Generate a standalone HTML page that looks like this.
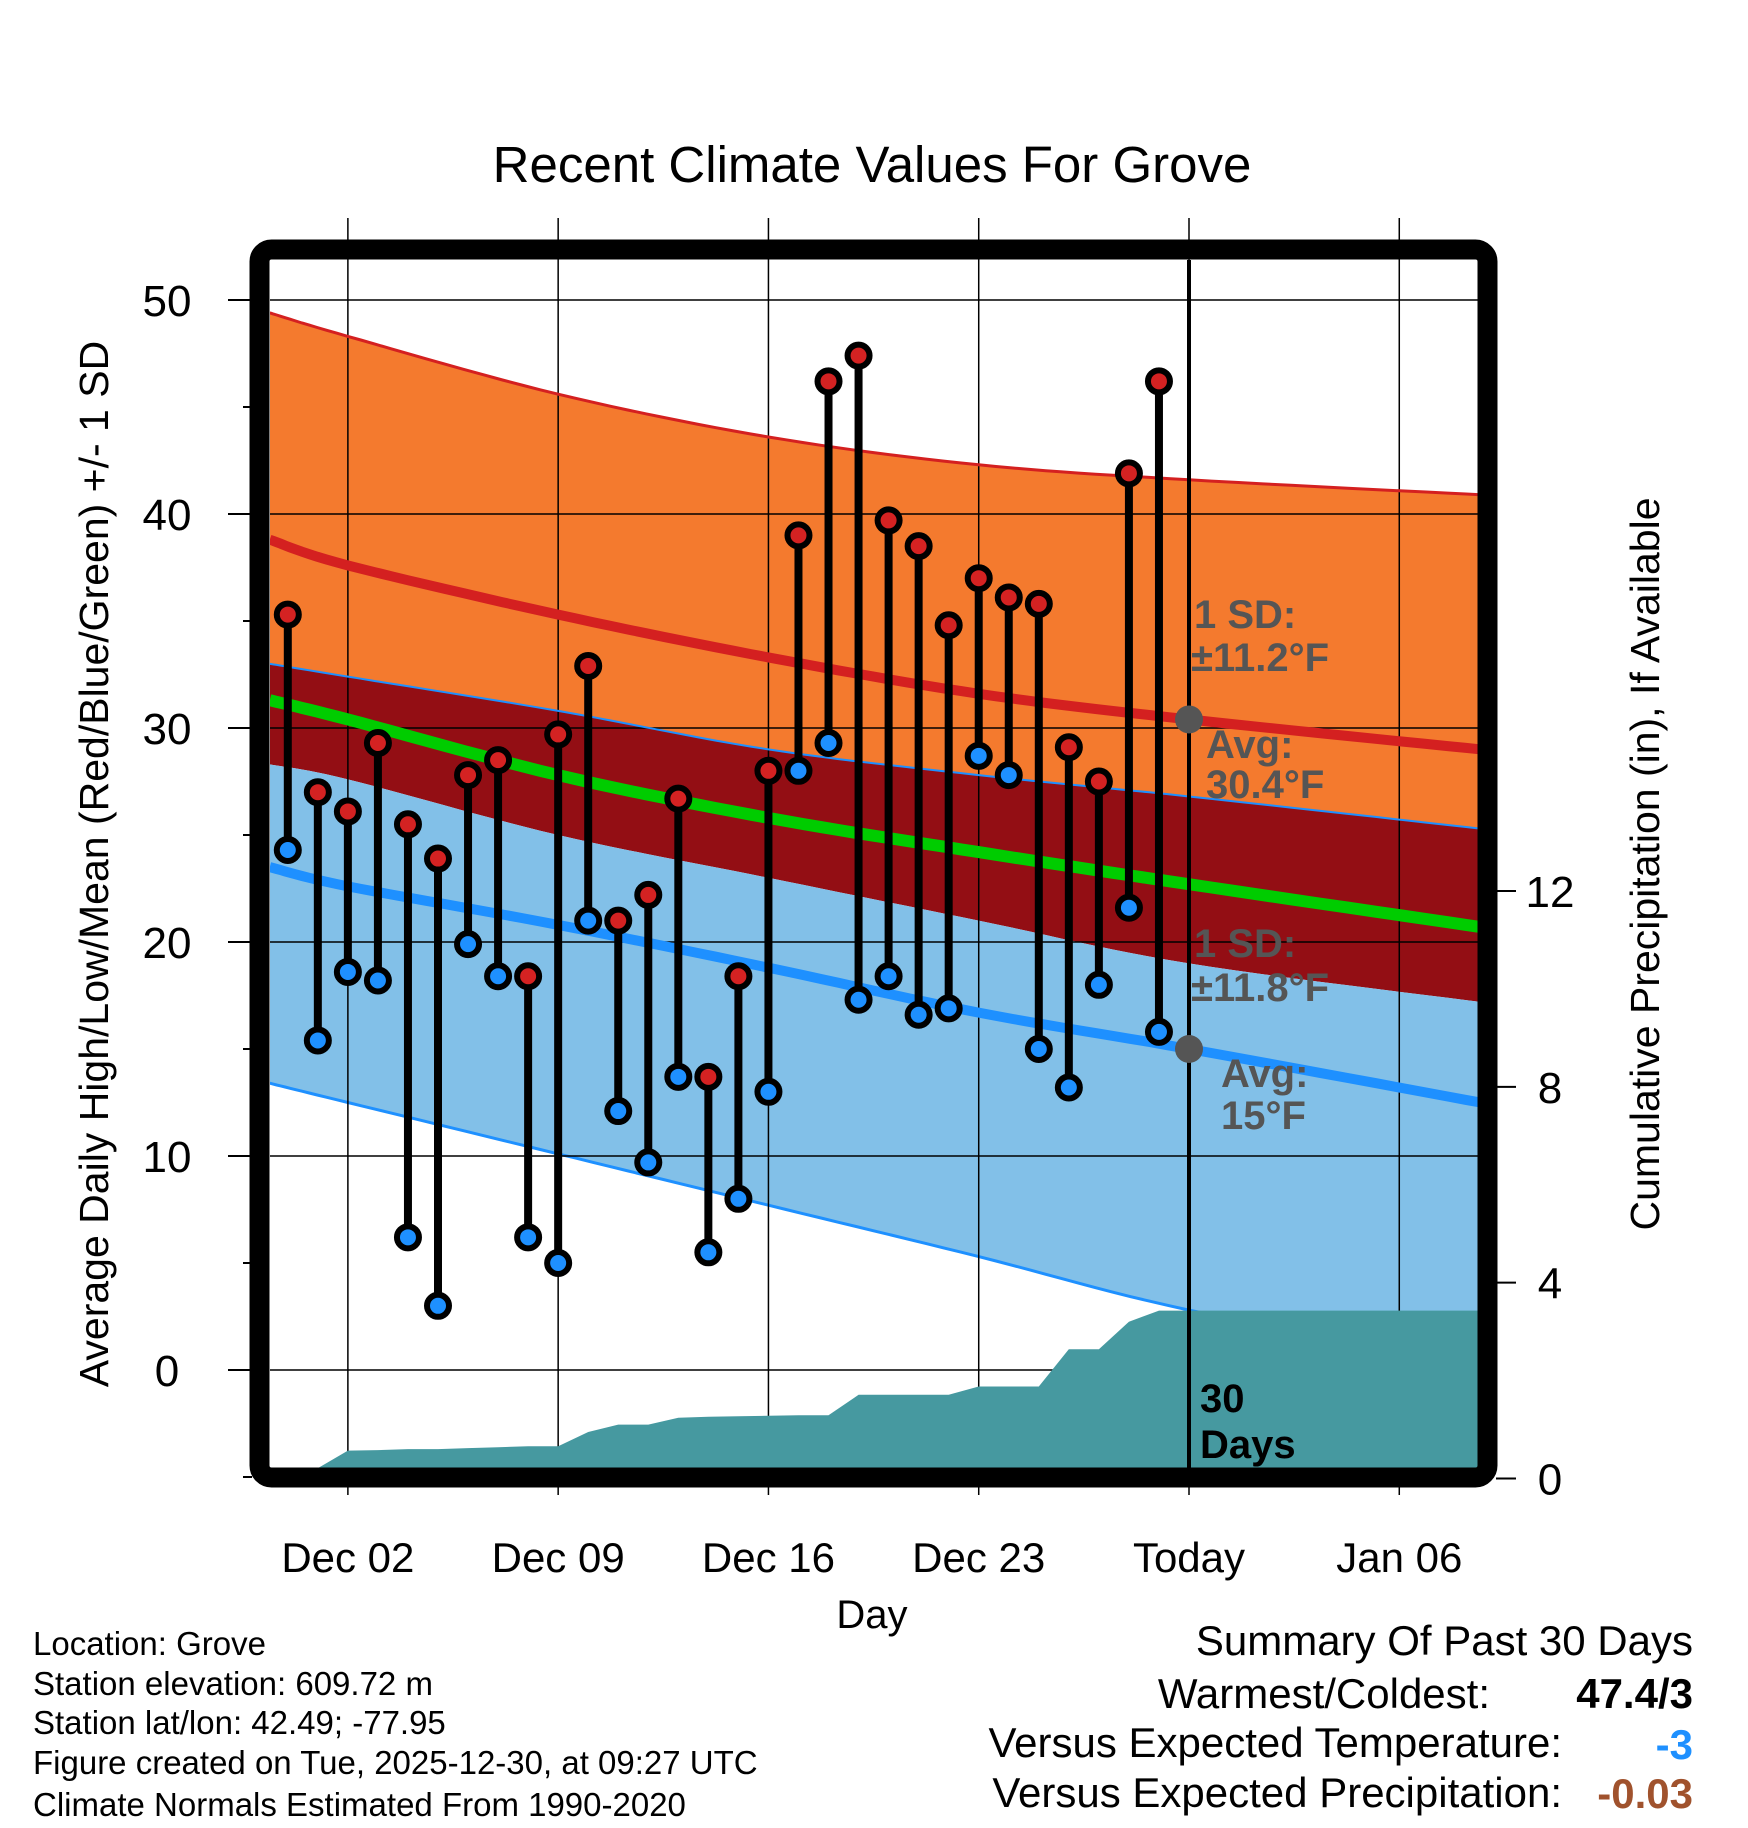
<!DOCTYPE html>
<html><head><meta charset="utf-8"><style>
html,body{margin:0;padding:0;background:#fff}
svg{display:block}
text{font-family:"Liberation Sans",sans-serif}
</style></head><body>
<svg id="chart" width="1748" height="1828" viewBox="0 0 1748 1828" xmlns="http://www.w3.org/2000/svg">
<defs><clipPath id="pc"><rect x="270" y="260" width="1208" height="1208"/></clipPath></defs>
<text x="872" y="182" font-size="51" text-anchor="middle">Recent Climate Values For Grove</text>
<g id="bands" clip-path="url(#pc)"></g>
<g id="grid"></g>
<g id="precip" clip-path="url(#pc)"></g>
<g id="lines" clip-path="url(#pc)"></g>
<g id="marks"></g>
<g id="annot" font-weight="bold" font-size="40" fill="#555">
<text x="1194" y="628">1 SD:</text>
<text x="1191" y="671">±11.2°F</text>
<text x="1206" y="758">Avg:</text>
<text x="1206" y="798">30.4°F</text>
<text x="1194" y="957">1 SD:</text>
<text x="1191" y="1001">±11.8°F</text>
<text x="1221" y="1087">Avg:</text>
<text x="1221" y="1129">15°F</text>
<text x="1200" y="1412" fill="#000">30</text>
<text x="1200" y="1458" fill="#000">Days</text>
</g>
<rect x="259.5" y="249.5" width="1228" height="1228" rx="12" fill="none" stroke="#000" stroke-width="20"/>
<g id="axes"></g>
<text transform="translate(108,864) rotate(-90)" font-size="41" text-anchor="middle">Average Daily High/Low/Mean (Red/Blue/Green) +/- 1 SD</text>
<text transform="translate(1659,864) rotate(-90)" font-size="41" text-anchor="middle">Cumulative Precipitation (in), If Available</text>
<text x="872" y="1628" font-size="40" text-anchor="middle">Day</text>
<g font-size="33">
<text x="33" y="1655">Location: Grove</text>
<text x="33" y="1695">Station elevation: 609.72 m</text>
<text x="33" y="1734">Station lat/lon: 42.49; -77.95</text>
<text x="33" y="1774">Figure created on Tue, 2025-12-30, at 09:27 UTC</text>
<text x="33" y="1816">Climate Normals Estimated From 1990-2020</text>
</g>
<g font-size="42" text-anchor="end">
<text x="1693" y="1655">Summary Of Past 30 Days</text>
<text x="1490" y="1708">Warmest/Coldest:</text>
<text x="1693" y="1708" font-weight="bold">47.4/3</text>
<text x="1562" y="1757">Versus Expected Temperature:</text>
<text x="1693" y="1759" font-weight="bold" fill="#1e90ff">-3</text>
<text x="1562" y="1807">Versus Expected Precipitation:</text>
<text x="1693" y="1808" font-weight="bold" fill="#a0522d">-0.03</text>
</g>
</svg>
<script>
const highs=[35.3,27,26.1,29.3,25.5,23.9,27.8,28.5,18.4,29.7,32.9,21,22.2,26.7,13.7,18.4,28,39,46.2,47.4,39.7,38.5,34.8,37,36.1,35.8,29.1,27.5,41.9,46.2];
const lows=[24.3,15.4,18.6,18.2,6.2,3,19.9,18.4,6.2,5,21,12.1,9.7,13.7,5.5,8,13,28,29.3,17.3,18.4,16.6,16.9,28.7,27.8,15,13.2,18,21.6,15.8];
const precipCum=[0.21,0.21,0.57,0.58,0.6,0.6,0.62,0.64,0.66,0.66,0.95,1.1,1.1,1.24,1.26,1.27,1.28,1.29,1.29,1.71,1.71,1.71,1.71,1.88,1.88,1.88,2.64,2.64,3.2,3.43];
const normDays=[-0.6,2,9,16,23,30,39.7];
const sdTop=[49.4,48.3,45.6,43.6,42.3,41.6,40.9];
const normHigh=[38.8,37.6,35.3,33.3,31.6,30.4,29.0];
const highMinusSd=[33.0,32.4,30.8,29.0,27.8,26.8,25.3];
const bandBottom=[28.3,27.6,25.0,23.0,21.0,19.0,17.2];
const normMean=[31.3,30.4,27.8,25.8,24.2,22.7,20.7];
const normLow=[23.5,22.6,20.8,18.8,16.7,15.0,12.5];
const lowMinusSd=[13.4,12.5,10.1,7.7,5.3,2.8,0.3];
const todayHigh=30.4, todayLow=15;
const xTickDays=[2,9,16,23,30,37];
const xTickLabels=["Dec 02","Dec 09","Dec 16","Dec 23","Today","Jan 06"];
const yTicks=[0,10,20,30,40,50];
const y2Ticks=[0,4,8,12];

const NS="http://www.w3.org/2000/svg";
const X=d=>1189+(d-30)*30.04;
const Y=v=>1370-v*21.4;
const YP=p=>1478.5-p*48.96;
function mk(tag,attrs,parent){const e=document.createElementNS(NS,tag);for(const k in attrs)e.setAttribute(k,attrs[k]);parent.appendChild(e);return e;}
const g=id=>document.getElementById(id);
// smooth (Catmull-Rom) sampling through the data points
function smooth(arr){
  const P=arr.map((v,i)=>[X(normDays[i]),Y(v)]);
  const out=[];
  for(let i=0;i<P.length-1;i++){
    const p0=P[Math.max(0,i-1)],p1=P[i],p2=P[i+1],p3=P[Math.min(P.length-1,i+2)];
    for(let s=0;s<12;s++){
      const t=s/12,t2=t*t,t3=t2*t;
      const f=(a,b,c,d)=>0.5*(2*b+(-a+c)*t+(2*a-5*b+4*c-d)*t2+(-a+3*b-3*c+d)*t3);
      out.push(f(p0[0],p1[0],p2[0],p3[0]).toFixed(1)+","+f(p0[1],p1[1],p2[1],p3[1]).toFixed(1));
    }
  }
  const L=P[P.length-1];out.push(L[0].toFixed(1)+","+L[1].toFixed(1));
  return out;
}
function band(top,bot,fill,name){
  const p=smooth(top).concat(smooth(bot).reverse());
  const e=mk('polygon',{points:p.join(' '),fill:fill},g('bands'));
  
  
}
band(sdTop,highMinusSd,'#f47a2e','high-sd-band');
band(highMinusSd,bandBottom,'#930e14','mid-band');
band(bandBottom,lowMinusSd,'#82c0e8','low-sd-band');
function line(arr,color,w,name,parent){
  const e=mk('polyline',{points:smooth(arr).join(' '),fill:'none',stroke:color,'stroke-width':w},parent||g('lines'));
  
  
}
line(lowMinusSd,'#1e90ff',3,'low-minus-sd-line',g('bands'));
// grid
for(const v of yTicks){
  const l=mk('line',{x1:270,x2:1478,y1:Y(v),y2:Y(v),stroke:'#000','stroke-width':1.5},g('grid'));
  
  
}
xTickDays.forEach((d,i)=>{
  const l=mk('line',{x1:X(d),x2:X(d),y1:218,y2:1495,stroke:'#000','stroke-width':1.5},g('grid'));
  
  
});
// precip
{
  let p=[[270,YP(precipCum[0])]];
  precipCum.forEach((v,i)=>p.push([X(i),YP(v)]));
  p.push([1478,YP(precipCum[precipCum.length-1])]);
  p.push([1478,1470]);p.push([270,1470]);
  const e=mk('polygon',{points:p.map(a=>a[0].toFixed(1)+","+a[1].toFixed(1)).join(' '),fill:'#4699a0'},g('precip'));
  
  
}
line(sdTop,'#d42020',3,'high-plus-sd-line');
line(normHigh,'#d42020',10,'normal-high-line');
line(highMinusSd,'#1e90ff',2,'high-minus-sd-line');
line(normMean,'#00cc00',12,'normal-mean-line');
line(normLow,'#1e90ff',10,'normal-low-line');
{
  const t=mk('line',{x1:X(30),x2:X(30),y1:260,y2:1468,stroke:'#000','stroke-width':4},g('lines'));
  
  
}
// marks
const M=g('marks');
highs.forEach((h,i)=>{
  const x=X(i);
  const s=mk('line',{x1:x,x2:x,y1:Y(h),y2:Y(lows[i]),stroke:'#000','stroke-width':8},M);
  
  
});
highs.forEach((h,i)=>{
  const x=X(i);
  const a=mk('circle',{cx:x,cy:Y(h),r:11,fill:'#d42222',stroke:'#000','stroke-width':6},M);
  
  
  const b=mk('circle',{cx:x,cy:Y(lows[i]),r:11,fill:'#1e90ff',stroke:'#000','stroke-width':6},M);
  
  
});
{
  const a=mk('circle',{cx:X(30),cy:Y(todayHigh),r:14,fill:'#555'},M);
  
  
  const b=mk('circle',{cx:X(30),cy:Y(todayLow),r:14,fill:'#555'},M);
  
  
}
// axes
const A=g('axes');
yTicks.forEach(v=>{
  const t=mk('line',{x1:228,x2:252,y1:Y(v),y2:Y(v),stroke:'#000','stroke-width':2},A);
  
  
  const l=mk('text',{x:167,y:Y(v)+16,'font-size':44,'text-anchor':'middle'},A);
  l.textContent=v;
  
  
  if(v<50){
    const m=mk('line',{x1:243,x2:252,y1:Y(v+5),y2:Y(v+5),stroke:'#000','stroke-width':2},A);
    
    
  }
});
{const m=mk('line',{x1:243,x2:252,y1:Y(-5),y2:Y(-5),stroke:'#000','stroke-width':2},A);

}
y2Ticks.forEach(v=>{
  const t=mk('line',{x1:1496,x2:1516,y1:YP(v),y2:YP(v),stroke:'#000','stroke-width':2},A);
  
  
  const l=mk('text',{x:1550,y:YP(v)+16,'font-size':44,'text-anchor':'middle'},A);
  l.textContent=v;
  
  
});
xTickDays.forEach((d,i)=>{
  const l=mk('text',{x:X(d),y:1572,'font-size':42,'text-anchor':'middle'},A);
  l.textContent=xTickLabels[i];
  
  
});
</script>
</body></html>
